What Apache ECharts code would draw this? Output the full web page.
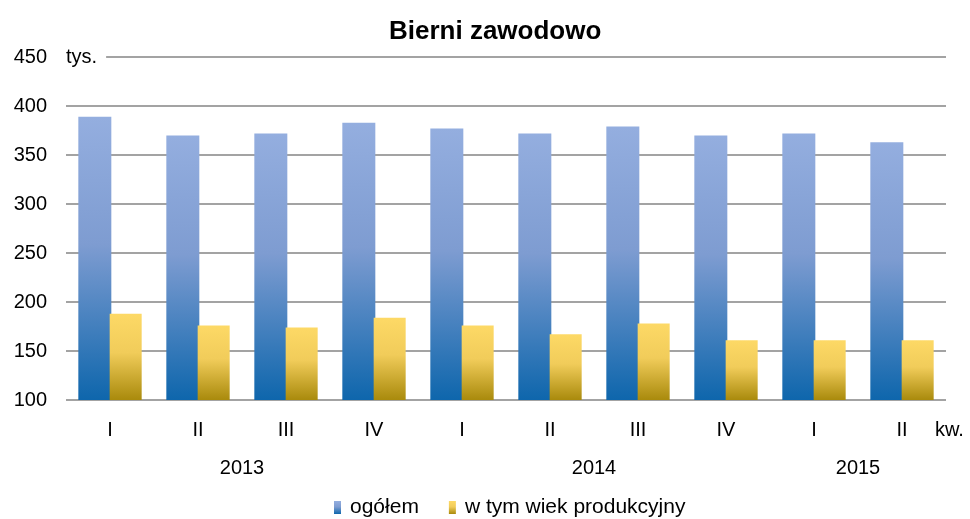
<!DOCTYPE html>
<html><head><meta charset="utf-8">
<script src="https://cdn.jsdelivr.net/npm/echarts@6/dist/echarts.min.js"></script>
<style>html,body{margin:0;padding:0;background:#fff}#c{width:970px;height:519px}</style>
</head><body><div id="c"></div>
<script>
var quarters = ['I','II','III','IV','I','II','III','IV','I','II'];
var years = ['2013','2013','2013','2013','2014','2014','2014','2014','2015','2015'];
var ogolem = [389, 370, 372, 383, 377, 372, 379, 370, 372, 363];
var produkcyjny = [188, 176, 174, 184, 176, 167, 178, 161, 161, 161];
var yTicks = [100, 150, 200, 250, 300, 350, 400, 450];
var seriesNames = ['ogółem', 'w tym wiek produkcyjny'];

// year label centers derived from the quarter grouping
var yearCenters = {};
(function(){
  var groups = {};
  years.forEach(function(y, i){ (groups[y] = groups[y] || []).push(i); });
  Object.keys(groups).forEach(function(y){
    var g = groups[y];
    yearCenters[(g[0] + g[g.length-1] + 1) / 2] = y;
  });
})();

var FONT = 'Liberation Sans, Arial, sans-serif';
function grad(a, b, c){
  return {type:'linear', x:0, y:0, x2:0, y2:1, colorStops:[{offset:0,color:a},{offset:0.45,color:b},{offset:1,color:c}]};
}
var blue = grad('#94aedf', '#7e9cd1', '#0e66ac');
var yellow = grad('#fdd966', '#f1cc5a', '#a98a0c');

var chart = echarts.init(document.getElementById('c'));
chart.setOption({
  animation: false,
  title: {text: 'Bierni zawodowo', left: 384, top: 14,
    textStyle: {fontFamily: FONT, fontSize: 26, fontWeight: 'bold', color: '#000'}},
  grid: {left: 66, right: 24, top: 57, bottom: 119},
  legend: {top: 492, left: 329, itemWidth: 7, itemHeight: 13, itemGap: 30,
    icon: 'rect', textStyle: {fontFamily: FONT, fontSize: 21, color: '#000', padding: [0,0,0,4]},
    data: [{name: seriesNames[0], itemStyle:{color: blue}}, {name: seriesNames[1], itemStyle:{color: yellow}}]},
  xAxis: [{
    type: 'category', data: quarters, position: 'bottom',
    axisLine: {show: false}, axisTick: {show: false},
    axisLabel: {fontFamily: FONT, fontSize: 20, color: '#000', margin: 20, interval: 0}
  },{
    type: 'value', min: 0, max: quarters.length, interval: 1, position: 'bottom',
    axisLine: {show: false}, axisTick: {show: false}, splitLine: {show: false},
    axisLabel: {fontFamily: FONT, fontSize: 20, color: '#000', margin: 58, showMinLabel: true, showMaxLabel: true,
      formatter: function(v){ return yearCenters[v] || ''; }}
  }],
  yAxis: {
    type: 'value', min: yTicks[0], max: yTicks[yTicks.length-1], interval: yTicks[1]-yTicks[0],
    axisLine: {show: false}, axisTick: {show: false},
    axisLabel: {fontFamily: FONT, fontSize: 20, color: '#000', margin: 19},
    splitLine: {lineStyle: {color: '#858585', width: 1.6}}
  },
  graphic: [
    {type: 'text', left: 64, top: 45, z: 100,
      style: {text: 'tys.', font: '20px ' + FONT, fill: '#000', backgroundColor: '#fff', padding: [2, 9, 2, 2]}},
    {type: 'text', left: 935, top: 420, z: 100,
      style: {text: 'kw.', font: '20px ' + FONT, fill: '#000'}}
  ],
  series: [
    {name: seriesNames[0], type: 'bar', data: ogolem, barWidth: 33, barGap: '-5%',
      itemStyle: {color: blue}},
    {name: seriesNames[1], type: 'bar', data: produkcyjny, barWidth: 32,
      itemStyle: {color: yellow}}
  ]
});
</script></body></html>
